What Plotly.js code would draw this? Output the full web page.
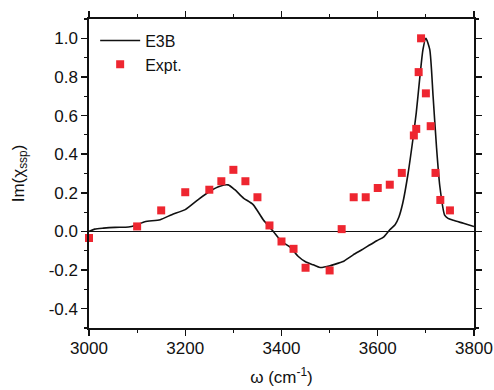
<!DOCTYPE html>
<html>
<head>
<meta charset="utf-8">
<script src="https://cdn.plot.ly/plotly-3.0.1.min.js"></script>
<style>html,body{margin:0;padding:0;background:#fff;}#chart{width:494px;height:390px;}</style>
</head>
<body>
<div id="chart"></div>
<script>
// E3B calculated spectrum
const e3bX = [3000, 3012, 3030, 3054, 3082, 3096, 3116, 3148, 3172, 3200, 3227, 3251, 3272, 3289, 3303, 3321, 3341, 3362, 3383, 3400, 3418, 3435, 3449, 3466, 3480, 3501, 3522, 3528, 3549, 3567, 3584, 3598, 3612, 3625, 3636, 3644, 3652, 3663, 3673, 3680, 3687, 3694, 3700, 3708, 3715, 3722, 3729, 3739, 3746, 3757, 3778, 3800];
const e3bY = [0.0, 0.012, 0.017, 0.021, 0.023, 0.031, 0.05, 0.061, 0.087, 0.113, 0.165, 0.208, 0.234, 0.241, 0.216, 0.173, 0.139, 0.061, 0.0, -0.052, -0.081, -0.13, -0.156, -0.173, -0.187, -0.178, -0.161, -0.156, -0.121, -0.095, -0.069, -0.048, -0.029, 0.009, 0.035, 0.075, 0.147, 0.30, 0.476, 0.614, 0.787, 0.943, 1.0, 0.943, 0.70, 0.44, 0.234, 0.085, 0.068, 0.058, 0.042, 0.025];

// Experimental points
const exptX = [3000, 3100, 3150, 3200, 3250, 3275, 3300, 3325, 3350, 3375, 3400, 3425, 3450, 3500, 3525, 3550, 3575, 3600, 3625, 3650, 3675, 3680, 3685, 3690, 3700, 3710, 3720, 3730, 3750];
const exptY = [-0.034, 0.026, 0.109, 0.203, 0.216, 0.26, 0.319, 0.26, 0.177, 0.031, -0.052, -0.09, -0.188, -0.202, 0.012, 0.177, 0.177, 0.225, 0.242, 0.303, 0.497, 0.531, 0.825, 1.0, 0.715, 0.545, 0.303, 0.163, 0.109];

const xTicks = [3000, 3200, 3400, 3600, 3800];
const yTicks = [-0.4, -0.2, 0.0, 0.2, 0.4, 0.6, 0.8, 1.0];

const fontFam = 'Liberation Sans, Arial, sans-serif';

const traces = [
  {
    x: e3bX, y: e3bY, type: 'scatter', mode: 'lines', name: 'E3B',
    line: {color: '#111111', width: 1.6, shape: 'spline', smoothing: 0.6}
  },
  {
    x: exptX, y: exptY, type: 'scatter', mode: 'markers', name: 'Expt.',
    marker: {symbol: 'square', size: 8, color: '#ee2630'},
    cliponaxis: false
  }
];

const axisCommon = {
  showline: true, linecolor: '#111', linewidth: 1.6,
  mirror: 'allticks', ticks: 'outside', ticklen: 6, tickwidth: 1.4, tickcolor: '#111',
  showgrid: false,
  tickfont: {family: fontFam, size: 17, color: '#111'}
};

const layout = {
  width: 494, height: 390,
  margin: {l: 89, r: 20, t: 19, b: 62},
  paper_bgcolor: '#fff', plot_bgcolor: '#fff',
  font: {family: fontFam, size: 17, color: '#111'},
  showlegend: true,
  legend: {
    x: 0.016, y: 0.985, xanchor: 'left', yanchor: 'top',
    bgcolor: 'rgba(0,0,0,0)', borderwidth: 0,
    font: {family: fontFam, size: 16, color: '#111'},
    itemwidth: 40, tracegroupgap: 0
  },
  xaxis: Object.assign({}, axisCommon, {
    range: [3000, 3800], tickmode: 'array', tickvals: xTicks,
    ticktext: xTicks.map(String),
    ticklabelstandoff: -2,
    minor: {dtick: 100, tick0: 3000, ticks: 'outside', ticklen: 3.5, tickwidth: 1.2, tickcolor: '#111', showgrid: false},
    zeroline: false,
    title: {text: 'ω (cm<sup>-1</sup>)', font: {family: fontFam, size: 17, color: '#111'}, standoff: 14}
  }),
  yaxis: Object.assign({}, axisCommon, {
    range: [-0.5, 1.1], tickmode: 'array', tickvals: yTicks,
    ticktext: yTicks.map(v => v.toFixed(1)),
    minor: {dtick: 0.1, tick0: 0, ticks: 'outside', ticklen: 3.5, tickwidth: 1.2, tickcolor: '#111', showgrid: false},
    zeroline: true, zerolinecolor: '#111', zerolinewidth: 1.6,
    title: {text: 'Im(χ<sub>ssp</sub>)', font: {family: fontFam, size: 17, color: '#111'}, standoff: 20}
  })
};

Plotly.newPlot('chart', traces, layout, {displayModeBar: false, staticPlot: true});
</script>
</body>
</html>
